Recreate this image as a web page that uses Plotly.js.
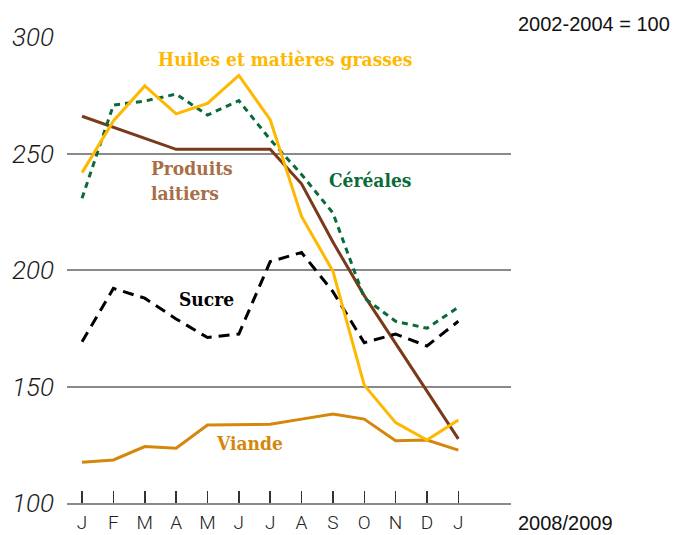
<!DOCTYPE html>
<html><head><meta charset="utf-8">
<script src="https://cdn.plot.ly/plotly-3.0.1.min.js"></script>
<style>html,body{margin:0;padding:0;background:#fff}#c{width:677px;height:535px}</style>
</head><body><div id="c"></div>
<script>
const months = ["J","F","M","A","M","J","J","A","S","O","N","D","J"];
const yTicks = [100, 150, 200, 250, 300];
const huiles = [241.8, 264, 279, 267, 271.5, 283.5, 264.5, 223, 199.5, 150.6, 134.5, 127, 135.6];
const cereales = [230.8, 270.8, 272.5, 275.5, 266.5, 272.7, 256, 241, 224.5, 188, 178, 175, 184];
const sucre = [169.2, 192.1, 187.9, 179, 171, 172.5, 203.6, 207.5, 190.7, 168.8, 172.5, 167.4, 178];
const laitiers = [266, 261.2, 256.5, 251.8, 251.8, 251.8, 251.8, 237, 212, 189, 168.5, 148, 127.5];
const viande = [117.5, 118.5, 124.2, 123.5, 133.5, 133.7, 133.8, 136, 138.2, 136, 126.7, 127, 122.7];
const idx = months.map((m,i)=>i);

const labelFont = "DejaVu Serif Condensed, DejaVu Serif, serif";
const axisFont = "Roboto, Liberation Sans, Arial, sans-serif";
const traces = [
  {x: idx, y: viande, mode:'lines', line:{color:'#d5870c', width:3}},
  {x: idx, y: laitiers, mode:'lines', line:{color:'#7a3a1a', width:3}},
  {x: idx, y: sucre, mode:'lines', line:{color:'#000000', width:3, dash:'11px,7px'}},
  {x: idx, y: cereales, mode:'lines', line:{color:'#0b6a39', width:3, dash:'6px,5px'}},
  {x: idx, y: huiles, mode:'lines', line:{color:'#ffb800', width:3}}
];
function lab(text, x, y, color, extra){
  return Object.assign({text:text, x:x, y:y, xref:'x', yref:'y', showarrow:false,
    font:{family:labelFont, size:19, color:color, weight:'bold'}}, extra||{});
}
const layout = {
  width:677, height:535,
  margin:{l:67, r:166, t:37, b:32},
  paper_bgcolor:'#fff', plot_bgcolor:'#fff',
  showlegend:false,
  xaxis:{range:[-0.48,13.68], tickvals:idx, ticktext:months, showgrid:false, zeroline:false,
    showline:true, linecolor:'#8a8a8a', linewidth:2,
    ticks:'inside', ticklen:12, tickwidth:1.5, tickcolor:'#333', ticklabelstandoff:1,
    tickfont:{family:axisFont, size:19, color:'#222', weight:300}},
  yaxis:{range:[100,300], tickvals:yTicks, ticktext:yTicks.map(v=>'<i>'+v+'</i>'),
    showgrid:true, gridcolor:'#8a8a8a', gridwidth:2,
    zeroline:false, showline:false, ticks:'', ticklabelstandoff:12,
    tickfont:{family:axisFont, size:26, color:'#1a1a1a', weight:300, style:'italic'}},
  annotations:[
    lab('Huiles et matières grasses', 6.47, 290.6, '#ffb800'),
    lab('Produits<br>laitiers', 2.14, 238.2, '#a86e48', {xanchor:'left', align:'left'}),
    lab('Céréales', 9.17, 238.6, '#0b6a39'),
    lab('Sucre', 3.97, 187.6, '#000000'),
    lab('Viande', 5.34, 125.8, '#d5870c'),
    {text:'2002-2004 = 100', xref:'paper', yref:'paper', x:1.012, y:1.027, xanchor:'left', yanchor:'middle', showarrow:false,
      font:{family:'Liberation Sans, Arial, sans-serif', size:20, color:'#111'}},
    {text:'2008/2009', xref:'paper', yref:'paper', x:1.012, y:-0.042, xanchor:'left', yanchor:'middle', showarrow:false,
      font:{family:'Liberation Sans, Arial, sans-serif', size:20, color:'#111'}}
  ]
};
Plotly.newPlot('c', traces, layout, {displayModeBar:false, staticPlot:true});
</script></body></html>
